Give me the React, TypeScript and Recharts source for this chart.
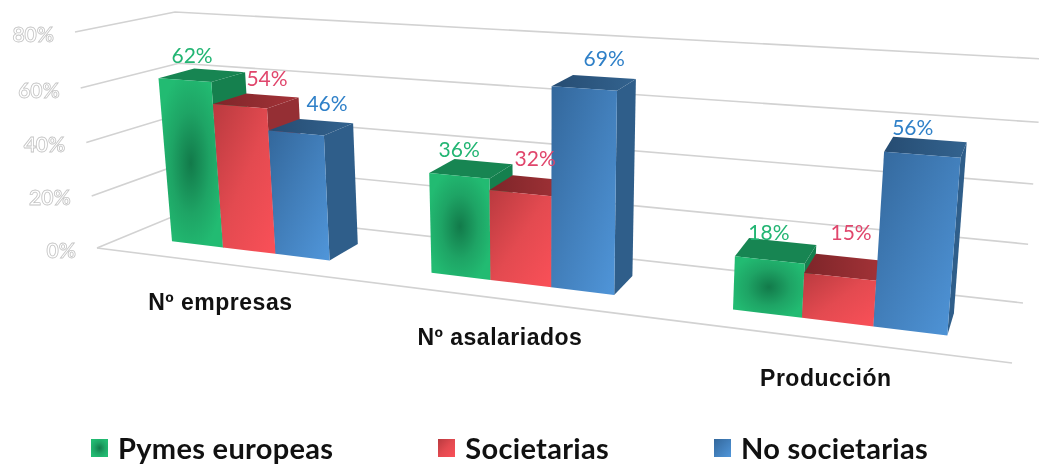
import React from 'react';
import { BarChart, Bar, XAxis, YAxis, CartesianGrid, Legend, LabelList } from 'recharts';

const categories = ['Nº empresas', 'Nº asalariados', 'Producción'];
const pymes = [62, 36, 18];
const societarias = [54, 32, 15];
const noSocietarias = [46, 69, 56];
const yTicks = [0, 20, 40, 60, 80];

const chartData = categories.map((cat, i) => ({
  cat,
  pymes: pymes[i],
  societarias: societarias[i],
  noSocietarias: noSocietarias[i],
}));

const W = 1039;
const H = 464;
const AXIS = 1; // the axes need a non-zero size to draw their ticks
const toU = (x: number) => (x - AXIS) / (W - AXIS);
const toV = (y: number) => (H - AXIS - y) / (H - AXIS);

// Corners of the 3D box on the screen: [front/back][bottom/top][left/right]
const BOX = {
  fbl: [97, 248], fbr: [1012, 363], ftl: [75, 32], ftr: [1035, 93],
  bbl: [190, 209.5], bbr: [1023, 303], btl: [175, 12], btr: [1044, 59],
};
const mix = (a: number[], b: number[], t: number) => [a[0] + (b[0] - a[0]) * t, a[1] + (b[1] - a[1]) * t];
const su = (u: number) => u / (u + 1.26 * (1 - u));
const sv = (v: number) => v / (v + 1.05 * (1 - v));
const project = (u: number, v: number, d: number) => {
  const s = su(u);
  const t = sv(v);
  const fb = mix(BOX.fbl, BOX.fbr, s);
  const ft = mix(BOX.ftl, BOX.ftr, s);
  const bb = mix(BOX.bbl, BOX.bbr, s);
  const bt = mix(BOX.btl, BOX.btr, s);
  return mix(mix(fb, ft, t), mix(bb, bt, t), d);
};
const pts = (list: number[][]) => list.map((p) => `${p[0].toFixed(1)},${p[1].toFixed(1)}`).join(' ');

const D0 = 0.32;
const D1 = 0.7;

const makeBar = (front: string, top: string, side: string) => (props: any) => {
  const { x, y, width } = props;
  const u0 = toU(x);
  const u1 = toU(x + width);
  const v = toV(y);
  return (
    <g>
      <polygon points={pts([project(u1, 0, D0), project(u1, 0, D1), project(u1, v, D1), project(u1, v, D0)])} fill={side} />
      <polygon points={pts([project(u0, v, D0), project(u1, v, D0), project(u1, v, D1), project(u0, v, D1)])} fill={top} />
      <polygon points={pts([project(u0, 0, D0), project(u1, 0, D0), project(u1, v, D0), project(u0, v, D0)])} fill={front} />
    </g>
  );
};

const labelNudges = {
  pymes: [[-10, -21], [-12, -20], [-7, -19]],
  societarias: [[11, -23], [4, -28], [6, -36]],
  noSocietarias: [[16, -25], [10, -25], [-13, -21]],
};

const makeLabel = (key: 'pymes' | 'societarias' | 'noSocietarias', color: string) => (props: any) => {
  const { x, y, width, value, index } = props;
  const c = project(toU(x + width / 2), toV(y), (D0 + D1) / 2);
  const n = labelNudges[key][index];
  return (
    <text x={c[0] + n[0]} y={c[1] + n[1]} fill={color} fontFamily="Lato" fontSize={21} textAnchor="middle" dominantBaseline="central">
      {`${value}%`}
    </text>
  );
};

const GridLine = (props: any) => {
  const v = toV(props.y1);
  const path = [project(0, v, 0), project(0, v, 1), project(1, v, 1)];
  return (
    <g>
      <polyline points={pts(path)} fill="none" stroke="#d2d2d2" strokeWidth={1.6} />
      {v < 0.001 && <polyline points={pts([project(0, 0, 0), project(1, 0, 0)])} fill="none" stroke="#d2d2d2" strokeWidth={1.6} />}
    </g>
  );
};

const YTick = (props: any) => {
  const p = project(0, toV(props.y), 0);
  return (
    <text x={p[0] - 21} y={p[1] + 1} textAnchor="end" dominantBaseline="central" fontFamily="Lato" fontWeight={700} fontSize={21} fill="#ffffff" stroke="#c4c4c4" strokeWidth={0.8}>
      {`${props.payload.value}%`}
    </text>
  );
};

const XTick = (props: any) => {
  const p = project(toU(props.x), 0, 0);
  return (
    <text x={p[0] - 2} y={p[1] + 38} textAnchor="middle" dominantBaseline="central" fontFamily="Liberation Sans" fontWeight={700} fontSize={23} letterSpacing={0.5} fill="#111111">
      {props.payload.value}
    </text>
  );
};

const legendGaps = [105, 105, 0];
const LegendContent = (props: any) => (
  <div style={{ display: 'flex', alignItems: 'center', whiteSpace: 'nowrap' }}>
    {(props.payload || []).filter((e: any) => e.type !== 'none' && e.legendType !== 'none').map((e: any, i: number) => (
      <div key={e.value} style={{ display: 'flex', alignItems: 'center', marginRight: legendGaps[i] }}>
        <svg width={17} height={18} style={{ marginRight: 10 }}>
          <rect width={17} height={18} fill={e.color} />
        </svg>
        <span style={{ fontFamily: 'Lato', fontWeight: 700, fontSize: 29, letterSpacing: 0.3, color: '#111111', lineHeight: '32px' }}>{e.value}</span>
      </div>
    ))}
  </div>
);

const frontGreen = makeBar('url(#frontGreen)', '#178552', '#15804e');
const frontRed = makeBar('url(#frontRed)', 'url(#topRed)', '#952f34');
const frontBlue = makeBar('url(#frontBlue)', 'url(#topBlue)', '#2f5e8a');

export default function App() {
  return (
    <div style={{ position: 'absolute', left: 0, top: 0, width: W, height: H, background: '#fff', overflow: 'hidden', filter: 'blur(0.45px)' }}>
      <BarChart width={W} height={H} data={chartData} margin={{ top: 0, right: 0, bottom: 0, left: 0 }} barCategoryGap="19%" barGap={0}>
        <defs>
          <radialGradient id="frontGreen" cx="50%" cy="50%" r="55%">
            <stop offset="0%" stopColor="#127a4a" />
            <stop offset="55%" stopColor="#1ea465" />
            <stop offset="100%" stopColor="#22bb72" />
          </radialGradient>
          <linearGradient id="frontRed" x1="0" y1="0" x2="1" y2="1">
            <stop offset="0%" stopColor="#b93a3f" />
            <stop offset="50%" stopColor="#e34a50" />
            <stop offset="100%" stopColor="#fa5058" />
          </linearGradient>
          <linearGradient id="frontBlue" x1="0" y1="0" x2="1" y2="1">
            <stop offset="0%" stopColor="#33679b" />
            <stop offset="50%" stopColor="#427fbb" />
            <stop offset="100%" stopColor="#5096da" />
          </linearGradient>
          <linearGradient id="topRed" x1="0" y1="0" x2="1" y2="0">
            <stop offset="0%" stopColor="#7d2529" />
            <stop offset="100%" stopColor="#a53338" />
          </linearGradient>
          <linearGradient id="topBlue" x1="0" y1="0" x2="1" y2="0">
            <stop offset="0%" stopColor="#264c72" />
            <stop offset="100%" stopColor="#33638f" />
          </linearGradient>
        </defs>
        <CartesianGrid vertical={false} horizontal={(p: any) => <GridLine key={p.key ?? p.y1} {...p} />} />
        <XAxis dataKey="cat" height={AXIS} axisLine={false} tickLine={false} tick={XTick} interval={0} />
        <XAxis xAxisId="labels" dataKey="cat" hide />
        <YAxis width={AXIS} domain={[0, 80]} ticks={yTicks} axisLine={false} tickLine={false} tick={YTick} interval={0} />
        <Legend verticalAlign="middle" layout="horizontal" align="center" itemSorter={null} content={LegendContent} wrapperStyle={{ top: 432, left: 91, width: 900, height: 32, bottom: 'auto' }} />
        <Bar dataKey="pymes" name="Pymes europeas" fill="url(#frontGreen)" shape={frontGreen} isAnimationActive={false} />
        <Bar dataKey="societarias" name="Societarias" fill="url(#frontRed)" shape={frontRed} isAnimationActive={false} />
        <Bar dataKey="noSocietarias" name="No societarias" fill="url(#frontBlue)" shape={frontBlue} isAnimationActive={false} />
        <Bar xAxisId="labels" dataKey="pymes" legendType="none" shape={() => <g />} isAnimationActive={false}>
          <LabelList dataKey="pymes" content={makeLabel('pymes', '#22b573')} />
        </Bar>
        <Bar xAxisId="labels" dataKey="societarias" legendType="none" shape={() => <g />} isAnimationActive={false}>
          <LabelList dataKey="societarias" content={makeLabel('societarias', '#e0466c')} />
        </Bar>
        <Bar xAxisId="labels" dataKey="noSocietarias" legendType="none" shape={() => <g />} isAnimationActive={false}>
          <LabelList dataKey="noSocietarias" content={makeLabel('noSocietarias', '#2f80c8')} />
        </Bar>
      </BarChart>
    </div>
  );
}
